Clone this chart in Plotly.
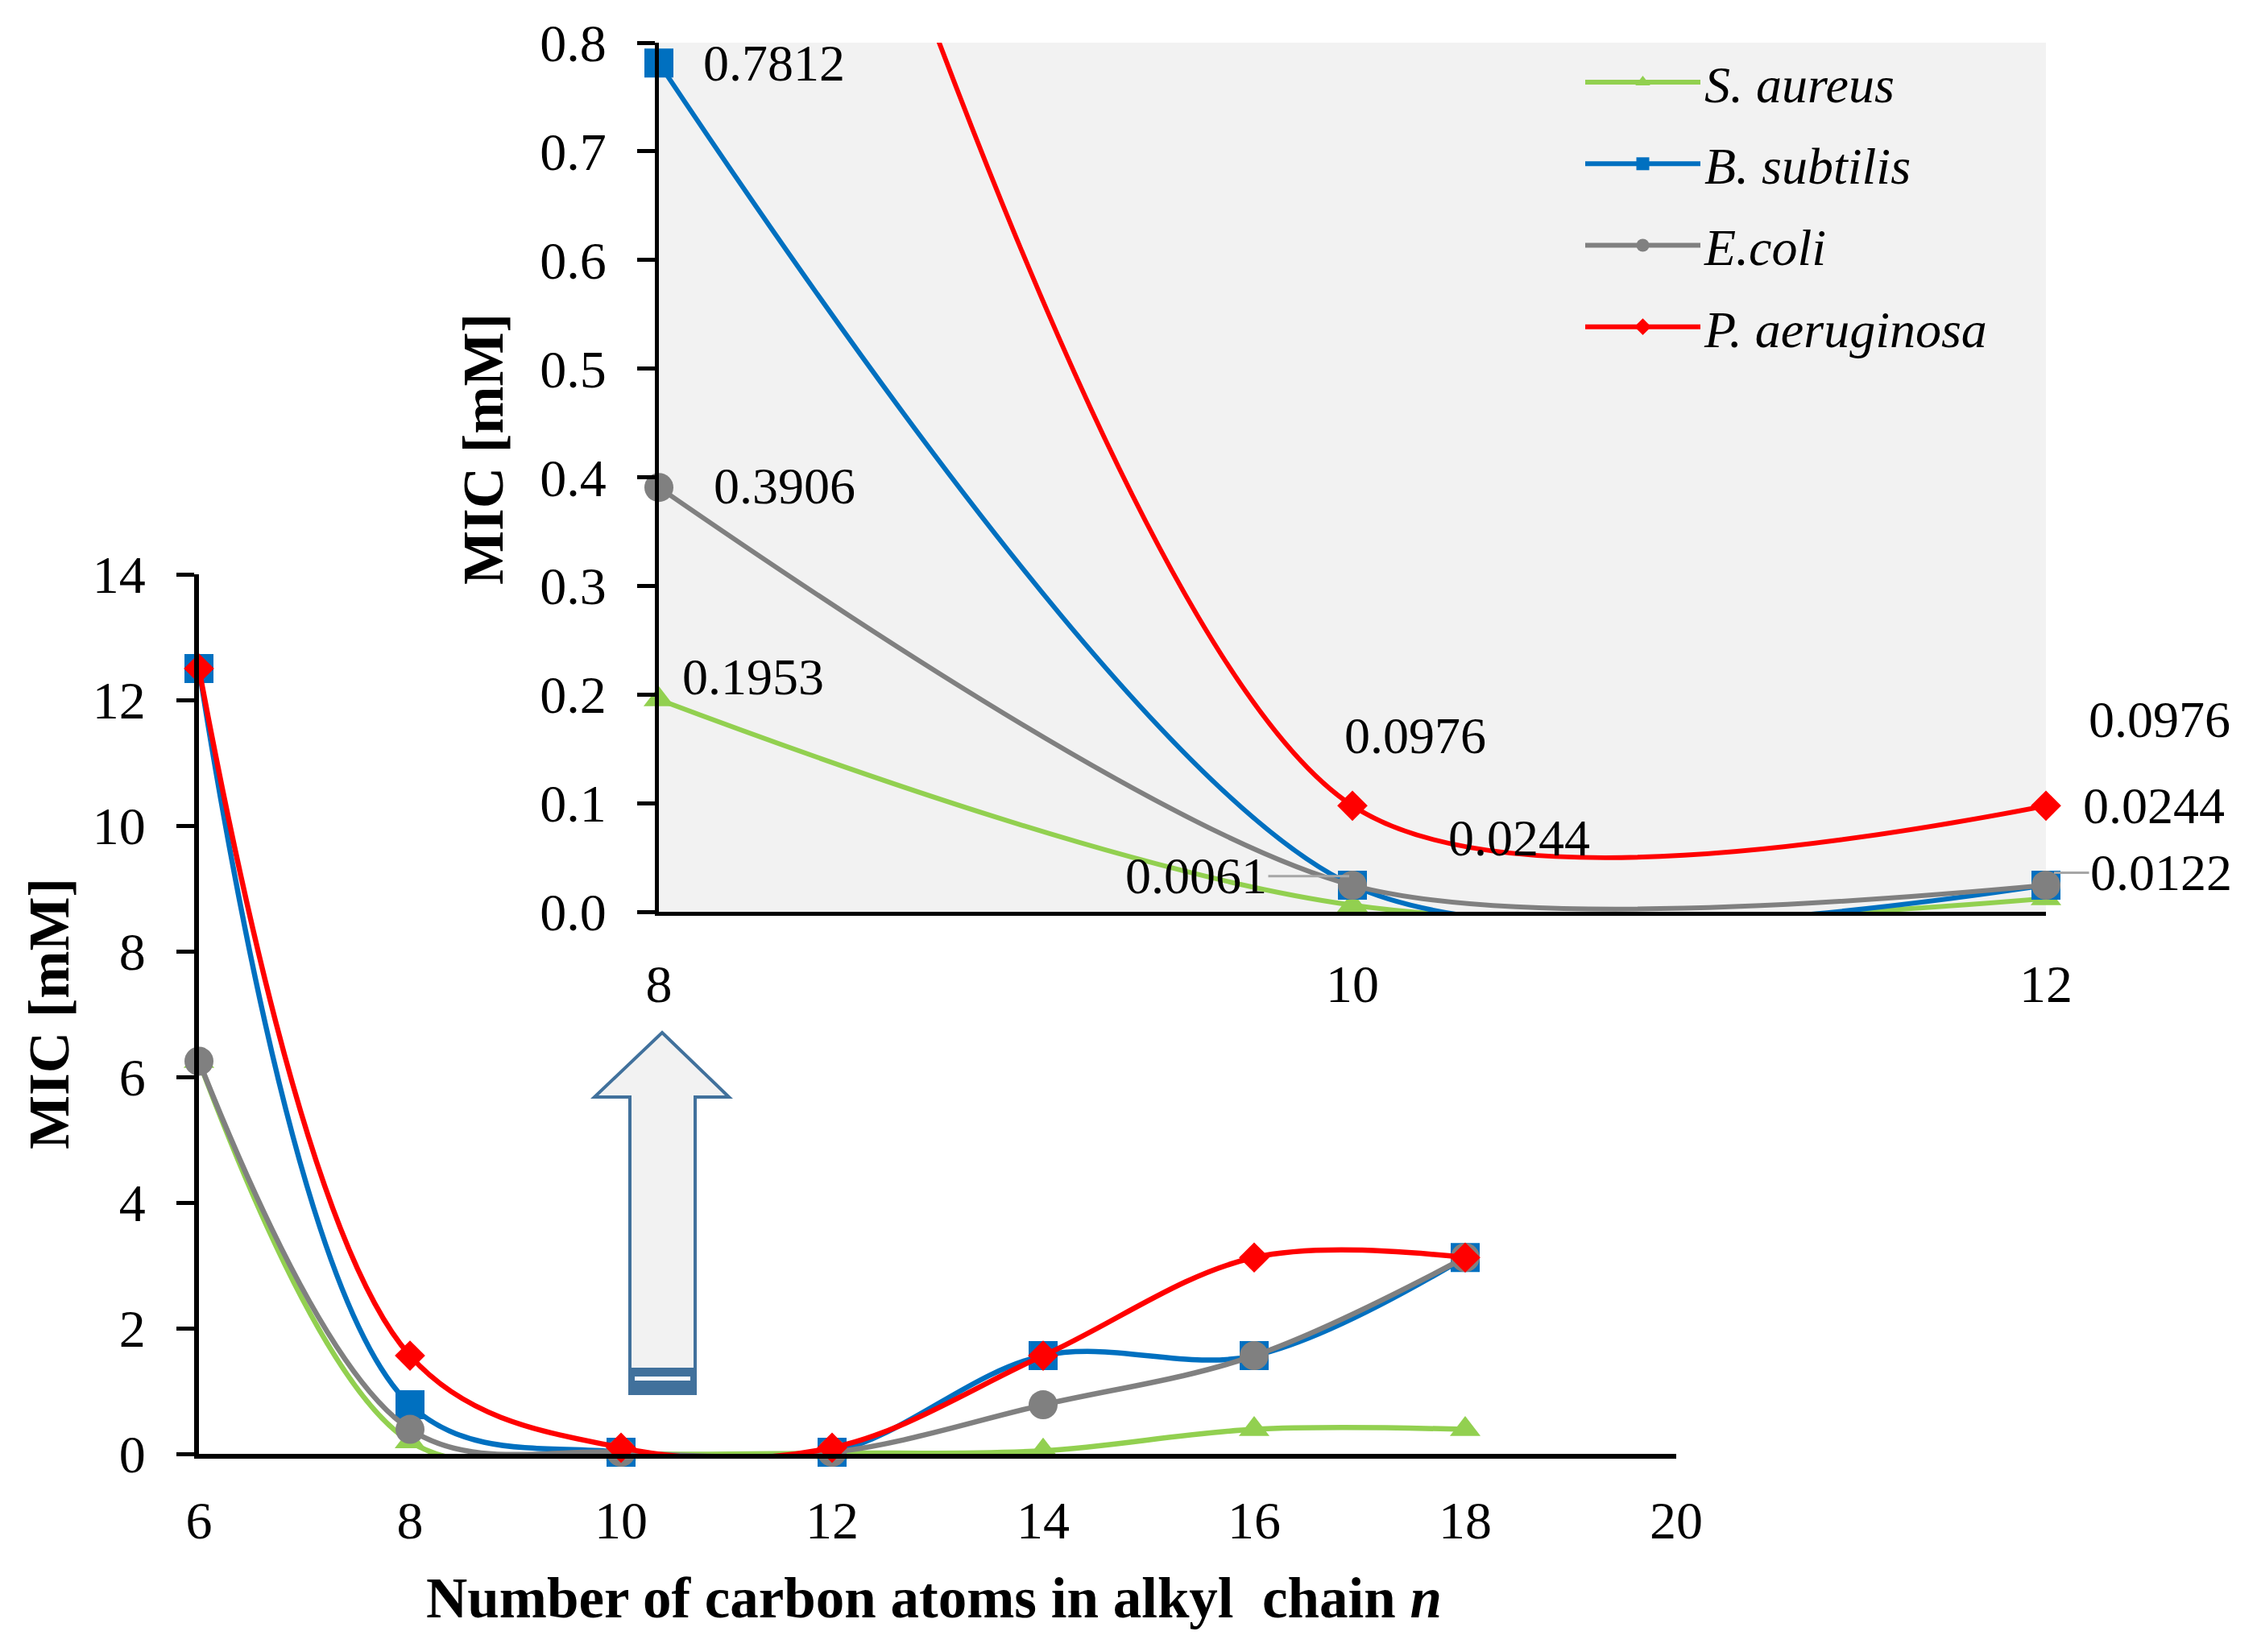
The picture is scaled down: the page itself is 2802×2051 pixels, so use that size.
import plotly.graph_objects as go

# MIC [mM] against number of carbon atoms n in the alkyl chain
n_main = [6, 8, 10, 12, 14, 16, 18]
s_aureus = [6.25, 0.1953, 0.0061, 0.0122, 0.0488, 0.3906, 0.3906]
b_subtilis = [12.5, 0.7812, 0.0244, 0.0244, 1.5625, 1.5625, 3.125]
e_coli = [6.25, 0.3906, 0.0244, 0.0244, 0.7812, 1.5625, 3.125]
p_aeruginosa = [12.5, 1.5625, 0.0976, 0.0976, 1.5625, 3.125, 3.125]

# zoomed part (n = 8..12)
n_inset = [8, 10, 12]

names = ["S. aureus", "B. subtilis", "E.coli", "P. aeruginosa"]
series = [s_aureus, b_subtilis, e_coli, p_aeruginosa]
colors = ["#92D050", "#0070C0", "#808080", "#FF0000"]
symbols = ["triangle-up", "square", "circle", "diamond"]
msizes = [33, 36, 36, 29]
inset_smooth = [1.0, 0.8, 0.8, 0.8]

W, H = 2802, 2051
OFF = 8  # page body margin
FONT = "Liberation Serif"


def px(x, y):
    # picture pixel position -> paper coords
    return (x - OFF) / W, 1 - (y - OFF) / H


fig = go.Figure()

# main chart
for name, ys, col, sym, ms in zip(names, series, colors, symbols, msizes):
    fig.add_trace(go.Scatter(
        x=n_main, y=ys, mode="lines+markers", name=name, showlegend=False,
        line=dict(color=col, width=6.5, shape="spline", smoothing=1.0, simplify=False),
        marker=dict(symbol=sym, size=ms, color=col), cliponaxis=False,
        xaxis="x", yaxis="y"))

# inset
for name, ys, col, sym, ms, sm in zip(names, series, colors, symbols, msizes, inset_smooth):
    ys_in = ys[1:4]
    fig.add_trace(go.Scatter(
        x=n_inset, y=ys_in, mode="lines+markers", name="<i>" + name + "</i>",
        legendgroup=name,
        line=dict(color=col, width=6, shape="spline", smoothing=sm, simplify=False),
        marker=dict(symbol=sym, size=ms, color=col), cliponaxis=False,
        xaxis="x2", yaxis="y2"))

# data labels in the inset: (series index, point index, xshift, yshift)
labels = [
    (1, 0, 53, 0), (2, 0, 66, 2), (0, 0, 27, 28),
    (3, 1, -12, 87), (1, 1, 117, 59),
    (3, 2, 51, 107), (1, 2, 44, 99),
]
annotations = []
for si, pi, dx, dy in labels:
    annotations.append(dict(
        x=n_inset[pi], y=series[si][pi + 1], xref="x2", yref="y2",
        text="%.4f" % series[si][pi + 1], showarrow=False,
        xanchor="left", yanchor="middle", xshift=dx, yshift=dy,
        font=dict(family=FONT, size=64, color="black")))

# labels with leader lines
leaders = [(0, 1, -4, 36, -190), (0, 2, 10, 32, 133)]
for si, pi, dx, dy, ax in leaders:
    annotations.append(dict(
        x=n_inset[pi], y=series[si][pi + 1], xref="x2", yref="y2",
        text="%.4f" % series[si][pi + 1], showarrow=True, arrowhead=0,
        arrowwidth=3, arrowcolor="#A6A6A6", ax=ax, ay=0,
        xshift=dx, yshift=dy,
        font=dict(family=FONT, size=64, color="black")))

# axis titles
title_font = dict(family=FONT, size=71, color="black")
x0, y0 = px(61, 1259)
annotations.append(dict(x=x0, y=y0, xref="paper", yref="paper", text="<b>MIC [mM]</b>",
                        textangle=-90, showarrow=False, xanchor="center", yanchor="middle",
                        font=title_font))
x0, y0 = px(600, 558)
annotations.append(dict(x=x0, y=y0, xref="paper", yref="paper", text="<b>MIC [mM]</b>",
                        textangle=-90, showarrow=False, xanchor="center", yanchor="middle",
                        font=title_font))
x0, y0 = px(1159, 1984)
annotations.append(dict(x=x0, y=y0, xref="paper", yref="paper",
                        text="<b>Number of carbon atoms in alkyl\u00a0 chain <i>n</i></b>",
                        showarrow=False, xanchor="center", yanchor="middle",
                        font=title_font))

# block arrow pointing from the main chart up to the inset
pts = [(822, 1282), (905, 1362), (863, 1362), (863, 1730), (782, 1730), (782, 1362), (738, 1362)]
path = "M " + " L ".join("%.5f,%.5f" % px(a, b) for a, b in pts) + " Z"
shapes = [
    dict(type="rect", xref="x2 domain", yref="y2 domain", x0=0, x1=1, y0=0, y1=1,
         fillcolor="#F2F2F2", line=dict(width=0), layer="below"),
    dict(type="path", xref="paper", yref="paper", path=path,
         fillcolor="#F2F2F2", line=dict(color="#41719C", width=4)),
]
ax0, ay0 = px(782, 1698)
ax1, ay1 = px(863, 1730)
shapes.append(dict(type="rect", xref="paper", yref="paper", x0=ax0, x1=ax1, y0=ay1, y1=ay0,
                   fillcolor="#41719C", line=dict(width=0)))
bx0, by0 = px(788, 1709)
bx1, by1 = px(857, 1714)
shapes.append(dict(type="rect", xref="paper", yref="paper", x0=bx0, x1=bx1, y0=by1, y1=by0,
                   fillcolor="white", line=dict(width=0)))

axis_common = dict(showline=True, linecolor="black", showgrid=False, zeroline=False,
                   automargin=False,
                   tickfont=dict(family=FONT, size=66, color="black"))

mx0, my0 = px(247, 1805)
mx1, my1 = px(2081, 713)
ix0, iy0 = px(818, 1132)
ix1, iy1 = px(2540, 53)

fig.update_layout(
    width=W, height=H, margin=dict(l=0, r=0, t=0, b=0, pad=0, autoexpand=False),
    paper_bgcolor="white", plot_bgcolor="rgba(0,0,0,0)",
    font=dict(family=FONT, size=64, color="black"),
    xaxis=dict(domain=[mx0, mx1], range=[6, 20], tick0=6, dtick=2, ticks="",
               linewidth=6, ticklabelstandoff=20, anchor="y", **axis_common),
    yaxis=dict(domain=[my0, my1], range=[0, 14], dtick=2, ticks="outside",
               ticklen=22, tickwidth=5, tickcolor="black", linewidth=6,
               ticklabelstandoff=25, anchor="x", **axis_common),
    xaxis2=dict(domain=[ix0, ix1], range=[8, 12], tick0=8, dtick=2, ticks="",
                linewidth=5, ticklabelstandoff=28, anchor="y2", **axis_common),
    yaxis2=dict(domain=[iy0, iy1], range=[0, 0.8], dtick=0.1, tickformat=".1f",
                ticks="outside", ticklen=22, tickwidth=5, tickcolor="black", linewidth=5,
                ticklabelstandoff=25, anchor="x2", **axis_common),
    legend=dict(x=1955 / W, y=1 - 46 / H, xanchor="left", yanchor="top",
                bgcolor="rgba(0,0,0,0)", itemwidth=143, tracegroupgap=15,
                traceorder="grouped", font=dict(family=FONT, size=64, color="black")),
    showlegend=True,
    annotations=annotations,
    shapes=shapes,
)

fig.write_html("out.html")
